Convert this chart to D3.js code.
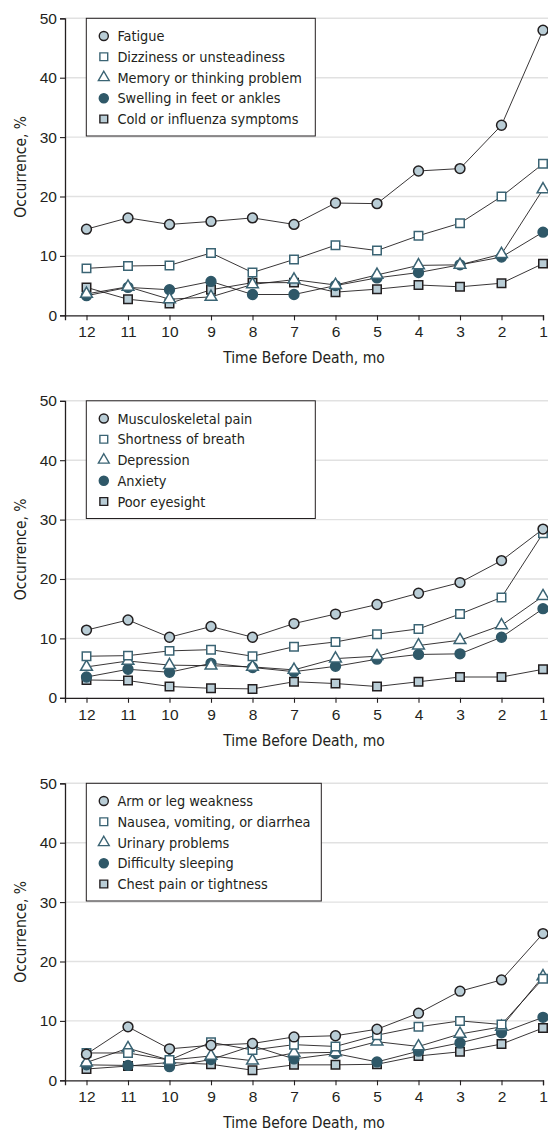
<!DOCTYPE html>
<html>
<head>
<meta charset="utf-8">
<script src="https://cdn.jsdelivr.net/npm/d3@7"></script>
<style>
  body { margin: 0; background: #fff; }
  svg { display: block; font-family: "DejaVu Sans Condensed", "Liberation Sans Narrow", sans-serif; }
</style>
</head>
<body>
<div class="chart"></div>
<script>
// months before death, left to right
const months = [12, 11, 10, 9, 8, 7, 6, 5, 4, 3, 2, 1];
const yTicks = [0, 10, 20, 30, 40, 50];

const panel1Names = ["Fatigue", "Dizziness or unsteadiness", "Memory or thinking problem", "Swelling in feet or ankles", "Cold or influenza symptoms"];
const fatigue = [14.5, 16.4, 15.3, 15.8, 16.4, 15.3, 18.9, 18.8, 24.3, 24.7, 32.0, 48.0];
const dizziness = [7.9, 8.3, 8.4, 10.5, 7.2, 9.4, 11.8, 10.9, 13.4, 15.5, 20.0, 25.5];
const memory = [3.6, 4.8, 2.7, 3.1, 5.2, 6.0, 5.1, 6.8, 8.4, 8.5, 10.3, 21.2];
const swelling = [3.3, 4.7, 4.3, 5.7, 3.5, 3.5, 5.0, 6.3, 7.2, 8.5, 9.8, 14.0];
const coldFlu = [4.7, 2.7, 2.0, 4.3, 5.5, 5.5, 3.9, 4.4, 5.1, 4.8, 5.4, 8.7];

const panel2Names = ["Musculoskeletal pain", "Shortness of breath", "Depression", "Anxiety", "Poor eyesight"];
const muscPain = [11.4, 13.1, 10.2, 12.0, 10.2, 12.5, 14.1, 15.7, 17.6, 19.4, 23.1, 28.4];
const breath = [7.0, 7.1, 7.9, 8.1, 7.0, 8.6, 9.4, 10.7, 11.6, 14.1, 16.9, 27.7];
const depression = [5.2, 6.2, 5.5, 5.4, 5.2, 4.7, 6.6, 7.0, 8.8, 9.7, 12.2, 17.1];
const anxiety = [3.5, 4.8, 4.3, 5.8, 5.1, 4.4, 5.3, 6.5, 7.3, 7.4, 10.2, 15.0];
const eyesight = [3.0, 2.9, 1.9, 1.6, 1.5, 2.7, 2.4, 1.9, 2.7, 3.5, 3.5, 4.8];

const panel3Names = ["Arm or leg weakness", "Nausea, vomiting, or diarrhea", "Urinary problems", "Difficulty sleeping", "Chest pain or tightness"];
const weakness = [4.4, 9.0, 5.3, 5.9, 6.2, 7.3, 7.5, 8.6, 11.3, 15.0, 16.9, 24.7];
const nausea = [4.6, 4.6, 3.4, 6.4, 5.1, 6.0, 5.7, 7.6, 9.0, 10.0, 9.4, 17.1];
const urinary = [3.0, 5.4, 3.4, 4.1, 3.3, 4.6, 4.7, 6.5, 5.7, 7.8, 9.0, 17.5];
const sleeping = [2.6, 2.5, 2.3, 3.5, 5.8, 3.6, 4.5, 3.1, 4.9, 6.3, 8.0, 10.6];
const chestPain = [1.9, 2.4, 3.0, 2.7, 1.7, 2.6, 2.6, 2.7, 4.1, 4.8, 6.1, 8.8];

const panels = [
  { names: panel1Names, series: [fatigue, dizziness, memory, swelling, coldFlu], legendW: 229 },
  { names: panel2Names, series: [muscPain, breath, depression, anxiety, eyesight], legendW: 229 },
  { names: panel3Names, series: [weakness, nausea, urinary, sleeping, chestPain], legendW: 235 },
];

const ink = "#231f20";
const teal = "#2f5868";
const light = "#b9cdd6";

// marker style per series slot
const markers = [
  { type: d3.symbolCircle, size: 76, fill: light, stroke: ink },
  { type: d3.symbolSquare, size: 72, fill: "#fff", stroke: "#3b6474" },
  { type: d3.symbolTriangle, size: 60, fill: "#fff", stroke: "#3b6474" },
  { type: d3.symbolCircle, size: 76, fill: teal, stroke: teal },
  { type: d3.symbolSquare, size: 72, fill: light, stroke: ink },
];
const drawOrder = [4, 3, 2, 1, 0];

const W = 548, H = 1131;
const plotLeft = 65, plotRight = 543, plotH = 297;

const svg = d3.select(".chart").append("svg").attr("width", W).attr("height", H);

const x = d3.scaleLinear().domain([12.518, 1]).range([plotLeft, plotRight]);

panels.forEach((p, i) => drawPanel(p, 18.3 + i * 382.5));

function drawPanel(panel, top) {
  const g = svg.append("g").attr("transform", `translate(0,${top})`);
  const y = d3.scaleLinear().domain([0, 50]).range([plotH, 0]);

  // grid
  g.append("g")
    .selectAll("line")
    .data(yTicks.filter((d) => d > 0))
    .join("line")
    .attr("x1", plotLeft)
    .attr("x2", W)
    .attr("y1", (d) => y(d))
    .attr("y2", (d) => y(d))
    .attr("stroke", "#e1e1e1")
    .attr("stroke-width", 1.4);

  const yAxis = g.append("g")
    .attr("transform", `translate(${plotLeft},0)`)
    .call(d3.axisLeft(y).tickValues(yTicks).tickSize(5).tickPadding(3));
  styleAxis(yAxis);

  const xAxis = g.append("g")
    .attr("transform", `translate(0,${plotH})`)
    .call(d3.axisBottom(x).tickValues(months).tickFormat(d3.format("d")).tickSize(5).tickPadding(6));
  styleAxis(xAxis);

  g.append("text")
    .attr("x", 304)
    .attr("y", plotH + 48)
    .attr("text-anchor", "middle")
    .attr("font-size", 15.5)
    .attr("fill", ink)
    .text("Time Before Death, mo");

  g.append("text")
    .attr("transform", `translate(26,${plotH / 2}) rotate(-90)`)
    .attr("text-anchor", "middle")
    .attr("font-size", 15.5)
    .attr("fill", ink)
    .text("Occurrence, %");

  const line = d3.line().x((d, j) => x(months[j])).y((d) => y(d));

  g.append("g")
    .selectAll("path")
    .data(panel.series)
    .join("path")
    .attr("d", line)
    .attr("fill", "none")
    .attr("stroke", ink)
    .attr("stroke-width", 0.9);

  drawOrder.forEach((k) => {
    const m = markers[k];
    g.append("g")
      .selectAll("path")
      .data(panel.series[k])
      .join("path")
      .attr("d", d3.symbol().type(m.type).size(m.size))
      .attr("transform", (d, j) => `translate(${x(months[j])},${y(d)})`)
      .attr("fill", m.fill)
      .attr("stroke", m.stroke)
      .attr("stroke-width", 1.5);
  });

  drawLegend(g, panel);
}

function styleAxis(axis) {
  axis.select(".domain").attr("stroke", ink).attr("stroke-width", 1.3);
  axis.selectAll(".tick line").attr("stroke", ink).attr("stroke-width", 1.1);
  axis.selectAll(".tick text").attr("font-size", 15.5).attr("fill", ink).attr("font-family", null);
}

function drawLegend(g, panel) {
  const lg = g.append("g").attr("transform", "translate(86.3,0)");
  lg.append("rect")
    .attr("width", panel.legendW)
    .attr("height", 117.7)
    .attr("fill", "#fff")
    .attr("stroke", ink)
    .attr("stroke-width", 1);

  const rows = lg.selectAll("g.row")
    .data(panel.names)
    .join("g")
    .attr("class", "row")
    .attr("transform", (d, j) => `translate(17.5,${17.7 + j * 20.75})`);

  rows.append("path")
    .attr("d", (d, j) => d3.symbol().type(markers[j].type).size(markers[j].size * 0.85)())
    .attr("fill", (d, j) => markers[j].fill)
    .attr("stroke", (d, j) => markers[j].stroke)
    .attr("stroke-width", 1.4);

  rows.append("text")
    .attr("x", 13.6)
    .attr("dy", "0.36em")
    .attr("font-size", 14.4)
    .attr("fill", ink)
    .text((d) => d);
}
</script>
</body>
</html>
